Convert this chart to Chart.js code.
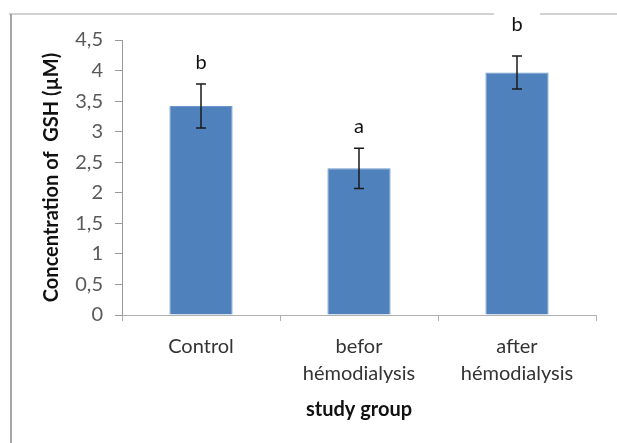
<!DOCTYPE html>
<html>
<head>
<meta charset="utf-8">
<script src="https://cdn.jsdelivr.net/npm/chart.js@4.4.1/dist/chart.umd.min.js"></script>
<style>
html, body { margin: 0; padding: 0; background: #fff; }
#wrap { width: 617px; height: 443px; }
</style>
</head>
<body>
<div id="wrap"><canvas id="myChart"></canvas></div>
<script>
// data
var groups = ["Control", ["befor", "hémodialysis"], ["after", "hémodialysis"]];
var means = [3.42, 2.40, 3.97];
var errors = [0.36, 0.33, 0.27];
var letters = ["b", "a", "b"];
var letterLevels = [4.13, 3.08, 4.75];
var yTickLabels = ["0", "0,5", "1", "1,5", "2", "2,5", "3", "3,5", "4", "4,5"];

var FONT = "Lato, 'Open Sans', sans-serif";

// error bars, significance letters and the outer frame
var extras = {
    id: 'extras',
    afterDatasetsDraw: function(chart) {
        var c = chart.ctx;
        var y = chart.scales.y;
        var meta = chart.getDatasetMeta(0);
        c.save();
        c.strokeStyle = '#1a1a1a';
        c.lineWidth = 1.5;
        meta.data.forEach(function(bar, i) {
            var top = y.getPixelForValue(means[i] + errors[i]);
            var bot = y.getPixelForValue(means[i] - errors[i]);
            c.beginPath();
            c.moveTo(bar.x, top); c.lineTo(bar.x, bot);
            c.moveTo(bar.x - 5, top); c.lineTo(bar.x + 5, top);
            c.moveTo(bar.x - 5, bot); c.lineTo(bar.x + 5, bot);
            c.stroke();
        });

        // frame (top line has a gap where the last letter's box sits)
        var last = meta.data[meta.data.length - 1];
        c.strokeStyle = '#c4c4c4';
        c.lineWidth = 1.5;
        c.beginPath();
        c.moveTo(9, 14); c.lineTo(last.x - 23, 14);
        c.moveTo(last.x + 23, 14); c.lineTo(617, 14);
        c.stroke();
        c.strokeStyle = '#8a8a8a';
        c.beginPath();
        c.moveTo(11, 14); c.lineTo(11, 443);
        c.stroke();

        c.fillStyle = '#111';
        c.font = '20px ' + FONT;
        c.textAlign = 'center';
        c.textBaseline = 'middle';
        meta.data.forEach(function(bar, i) {
            c.fillText(letters[i], bar.x, y.getPixelForValue(letterLevels[i]));
        });
        c.restore();
    }
};

var ctx = document.getElementById("myChart");
var myChart = new Chart(ctx, {
    type: 'bar',
    data: {
        labels: groups,
        datasets: [{
            data: means,
            backgroundColor: '#4f81bd',
            borderColor: '#6e98cc',
            borderWidth: 1,
            barPercentage: 0.4,
            categoryPercentage: 1
        }]
    },
    options: {
        responsive: true,
        maintainAspectRatio: false,
        animation: false,
        devicePixelRatio: 1,
        layout: { padding: { left: 28, right: 21, top: 40, bottom: 21 } },
        plugins: {
            legend: { display: false },
            tooltip: { enabled: false }
        },
        scales: {
            x: {
                offset: true,
                grid: { offset: true, drawOnChartArea: false, tickLength: 6, color: '#b0b0b0' },
                border: { color: '#b0b0b0' },
                ticks: { color: '#333', font: { family: FONT, size: 20, lineHeight: 1.35 }, padding: 12, maxRotation: 0 },
                title: { display: true, text: 'study group', color: '#111', font: { family: FONT, size: 20, weight: 'bold' }, padding: { top: 4, bottom: 0 } },
                afterFit: function(s) { s.height = 443 - 315 - 21; }
            },
            y: {
                min: 0,
                max: 4.5,
                ticks: {
                    stepSize: 0.5,
                    color: '#595959',
                    font: { family: FONT, size: 20 },
                    padding: 12,
                    callback: function(v, i) { return yTickLabels[i]; }
                },
                grid: { drawOnChartArea: false, tickLength: 7, color: '#999' },
                border: { color: '#999' },
                title: { display: true, text: 'Concentration of  GSH (µM)', color: '#111', font: { family: FONT, size: 20, weight: 'bold' }, padding: { top: 12, bottom: 0 } },
                afterFit: function(s) { s.width = 122 - 28; }
            }
        }
    },
    plugins: [extras]
});
</script>
</body>
</html>
